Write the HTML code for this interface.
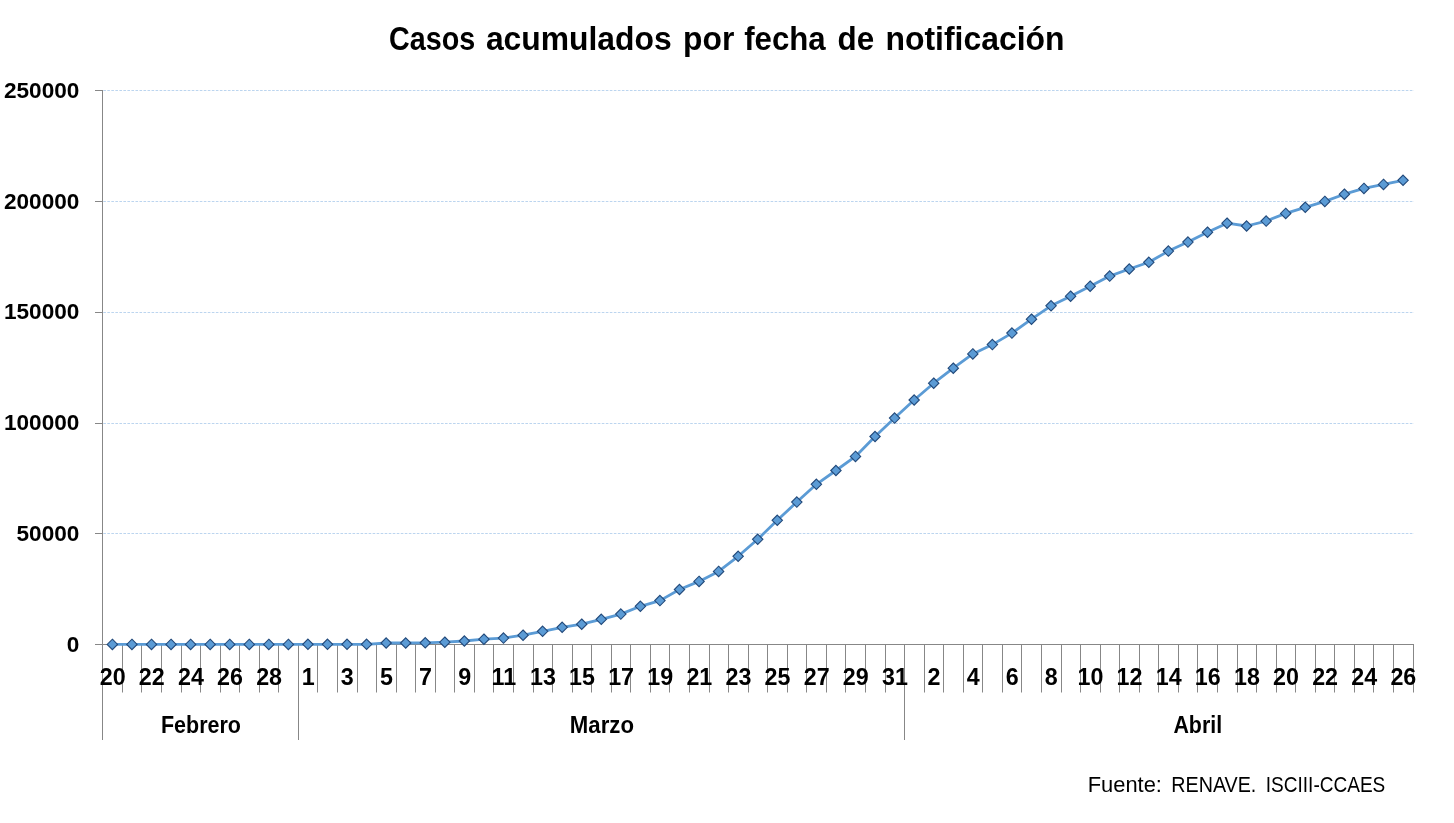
<!DOCTYPE html>
<html><head><meta charset="utf-8"><style>html,body{margin:0;padding:0;background:#fff;width:1454px;height:823px;overflow:hidden}</style></head>
<body>
<svg width="1454" height="823" viewBox="0 0 1454 823" style="display:block;font-family:'Liberation Sans',sans-serif">
<rect width="1454" height="823" fill="#fff"/>
<line x1="103.3" y1="90.5" x2="1414" y2="90.5" stroke="#BCD5EF" stroke-width="1" stroke-dasharray="2.6 1.42"/>
<line x1="103.3" y1="201.5" x2="1414" y2="201.5" stroke="#BCD5EF" stroke-width="1" stroke-dasharray="2.6 1.42"/>
<line x1="103.3" y1="312.5" x2="1414" y2="312.5" stroke="#BCD5EF" stroke-width="1" stroke-dasharray="2.6 1.42"/>
<line x1="103.3" y1="423.5" x2="1414" y2="423.5" stroke="#BCD5EF" stroke-width="1" stroke-dasharray="2.6 1.42"/>
<line x1="103.3" y1="533.5" x2="1414" y2="533.5" stroke="#BCD5EF" stroke-width="1" stroke-dasharray="2.6 1.42"/>
<line x1="95" y1="90.5" x2="103" y2="90.5" stroke="#878787" stroke-width="1"/>
<line x1="95" y1="201.5" x2="103" y2="201.5" stroke="#878787" stroke-width="1"/>
<line x1="95" y1="312.5" x2="103" y2="312.5" stroke="#878787" stroke-width="1"/>
<line x1="95" y1="423.5" x2="103" y2="423.5" stroke="#878787" stroke-width="1"/>
<line x1="95" y1="533.5" x2="103" y2="533.5" stroke="#878787" stroke-width="1"/>
<line x1="95" y1="644.5" x2="103" y2="644.5" stroke="#878787" stroke-width="1"/>
<line x1="102.5" y1="90" x2="102.5" y2="740" stroke="#878787" stroke-width="1"/>
<line x1="102" y1="644.5" x2="1414" y2="644.5" stroke="#878787" stroke-width="1"/>
<line x1="122.5" y1="644" x2="122.5" y2="692.5" stroke="#878787" stroke-width="1"/>
<line x1="141.5" y1="644" x2="141.5" y2="692.5" stroke="#878787" stroke-width="1"/>
<line x1="161.5" y1="644" x2="161.5" y2="692.5" stroke="#878787" stroke-width="1"/>
<line x1="181.5" y1="644" x2="181.5" y2="692.5" stroke="#878787" stroke-width="1"/>
<line x1="200.5" y1="644" x2="200.5" y2="692.5" stroke="#878787" stroke-width="1"/>
<line x1="220.5" y1="644" x2="220.5" y2="692.5" stroke="#878787" stroke-width="1"/>
<line x1="239.5" y1="644" x2="239.5" y2="692.5" stroke="#878787" stroke-width="1"/>
<line x1="259.5" y1="644" x2="259.5" y2="692.5" stroke="#878787" stroke-width="1"/>
<line x1="278.5" y1="644" x2="278.5" y2="692.5" stroke="#878787" stroke-width="1"/>
<line x1="298.5" y1="644" x2="298.5" y2="740" stroke="#878787" stroke-width="1"/>
<line x1="317.5" y1="644" x2="317.5" y2="692.5" stroke="#878787" stroke-width="1"/>
<line x1="337.5" y1="644" x2="337.5" y2="692.5" stroke="#878787" stroke-width="1"/>
<line x1="357.5" y1="644" x2="357.5" y2="692.5" stroke="#878787" stroke-width="1"/>
<line x1="376.5" y1="644" x2="376.5" y2="692.5" stroke="#878787" stroke-width="1"/>
<line x1="396.5" y1="644" x2="396.5" y2="692.5" stroke="#878787" stroke-width="1"/>
<line x1="415.5" y1="644" x2="415.5" y2="692.5" stroke="#878787" stroke-width="1"/>
<line x1="435.5" y1="644" x2="435.5" y2="692.5" stroke="#878787" stroke-width="1"/>
<line x1="454.5" y1="644" x2="454.5" y2="692.5" stroke="#878787" stroke-width="1"/>
<line x1="474.5" y1="644" x2="474.5" y2="692.5" stroke="#878787" stroke-width="1"/>
<line x1="493.5" y1="644" x2="493.5" y2="692.5" stroke="#878787" stroke-width="1"/>
<line x1="513.5" y1="644" x2="513.5" y2="692.5" stroke="#878787" stroke-width="1"/>
<line x1="533.5" y1="644" x2="533.5" y2="692.5" stroke="#878787" stroke-width="1"/>
<line x1="552.5" y1="644" x2="552.5" y2="692.5" stroke="#878787" stroke-width="1"/>
<line x1="572.5" y1="644" x2="572.5" y2="692.5" stroke="#878787" stroke-width="1"/>
<line x1="591.5" y1="644" x2="591.5" y2="692.5" stroke="#878787" stroke-width="1"/>
<line x1="611.5" y1="644" x2="611.5" y2="692.5" stroke="#878787" stroke-width="1"/>
<line x1="630.5" y1="644" x2="630.5" y2="692.5" stroke="#878787" stroke-width="1"/>
<line x1="650.5" y1="644" x2="650.5" y2="692.5" stroke="#878787" stroke-width="1"/>
<line x1="669.5" y1="644" x2="669.5" y2="692.5" stroke="#878787" stroke-width="1"/>
<line x1="689.5" y1="644" x2="689.5" y2="692.5" stroke="#878787" stroke-width="1"/>
<line x1="709.5" y1="644" x2="709.5" y2="692.5" stroke="#878787" stroke-width="1"/>
<line x1="728.5" y1="644" x2="728.5" y2="692.5" stroke="#878787" stroke-width="1"/>
<line x1="748.5" y1="644" x2="748.5" y2="692.5" stroke="#878787" stroke-width="1"/>
<line x1="767.5" y1="644" x2="767.5" y2="692.5" stroke="#878787" stroke-width="1"/>
<line x1="787.5" y1="644" x2="787.5" y2="692.5" stroke="#878787" stroke-width="1"/>
<line x1="806.5" y1="644" x2="806.5" y2="692.5" stroke="#878787" stroke-width="1"/>
<line x1="826.5" y1="644" x2="826.5" y2="692.5" stroke="#878787" stroke-width="1"/>
<line x1="845.5" y1="644" x2="845.5" y2="692.5" stroke="#878787" stroke-width="1"/>
<line x1="865.5" y1="644" x2="865.5" y2="692.5" stroke="#878787" stroke-width="1"/>
<line x1="885.5" y1="644" x2="885.5" y2="692.5" stroke="#878787" stroke-width="1"/>
<line x1="904.5" y1="644" x2="904.5" y2="740" stroke="#878787" stroke-width="1"/>
<line x1="924.5" y1="644" x2="924.5" y2="692.5" stroke="#878787" stroke-width="1"/>
<line x1="943.5" y1="644" x2="943.5" y2="692.5" stroke="#878787" stroke-width="1"/>
<line x1="963.5" y1="644" x2="963.5" y2="692.5" stroke="#878787" stroke-width="1"/>
<line x1="982.5" y1="644" x2="982.5" y2="692.5" stroke="#878787" stroke-width="1"/>
<line x1="1002.5" y1="644" x2="1002.5" y2="692.5" stroke="#878787" stroke-width="1"/>
<line x1="1021.5" y1="644" x2="1021.5" y2="692.5" stroke="#878787" stroke-width="1"/>
<line x1="1041.5" y1="644" x2="1041.5" y2="692.5" stroke="#878787" stroke-width="1"/>
<line x1="1061.5" y1="644" x2="1061.5" y2="692.5" stroke="#878787" stroke-width="1"/>
<line x1="1080.5" y1="644" x2="1080.5" y2="692.5" stroke="#878787" stroke-width="1"/>
<line x1="1100.5" y1="644" x2="1100.5" y2="692.5" stroke="#878787" stroke-width="1"/>
<line x1="1119.5" y1="644" x2="1119.5" y2="692.5" stroke="#878787" stroke-width="1"/>
<line x1="1139.5" y1="644" x2="1139.5" y2="692.5" stroke="#878787" stroke-width="1"/>
<line x1="1158.5" y1="644" x2="1158.5" y2="692.5" stroke="#878787" stroke-width="1"/>
<line x1="1178.5" y1="644" x2="1178.5" y2="692.5" stroke="#878787" stroke-width="1"/>
<line x1="1197.5" y1="644" x2="1197.5" y2="692.5" stroke="#878787" stroke-width="1"/>
<line x1="1217.5" y1="644" x2="1217.5" y2="692.5" stroke="#878787" stroke-width="1"/>
<line x1="1237.5" y1="644" x2="1237.5" y2="692.5" stroke="#878787" stroke-width="1"/>
<line x1="1256.5" y1="644" x2="1256.5" y2="692.5" stroke="#878787" stroke-width="1"/>
<line x1="1276.5" y1="644" x2="1276.5" y2="692.5" stroke="#878787" stroke-width="1"/>
<line x1="1295.5" y1="644" x2="1295.5" y2="692.5" stroke="#878787" stroke-width="1"/>
<line x1="1315.5" y1="644" x2="1315.5" y2="692.5" stroke="#878787" stroke-width="1"/>
<line x1="1334.5" y1="644" x2="1334.5" y2="692.5" stroke="#878787" stroke-width="1"/>
<line x1="1354.5" y1="644" x2="1354.5" y2="692.5" stroke="#878787" stroke-width="1"/>
<line x1="1373.5" y1="644" x2="1373.5" y2="692.5" stroke="#878787" stroke-width="1"/>
<line x1="1393.5" y1="644" x2="1393.5" y2="692.5" stroke="#878787" stroke-width="1"/>
<line x1="1413.5" y1="644" x2="1413.5" y2="692.5" stroke="#878787" stroke-width="1"/>
<g style="will-change:transform">
<text transform="translate(3.98 97.80) scale(1.0001 1)" font-size="22.60" font-weight="bold" fill="#000">250000</text>
<text transform="translate(3.98 208.60) scale(1.0001 1)" font-size="22.60" font-weight="bold" fill="#000">200000</text>
<text transform="translate(3.98 319.40) scale(1.0001 1)" font-size="22.60" font-weight="bold" fill="#000">150000</text>
<text transform="translate(3.98 430.20) scale(1.0001 1)" font-size="22.60" font-weight="bold" fill="#000">100000</text>
<text transform="translate(16.55 541.00) scale(1.0001 1)" font-size="22.60" font-weight="bold" fill="#000">50000</text>
<text transform="translate(66.83 651.80) scale(1.0001 1)" font-size="22.60" font-weight="bold" fill="#000">0</text>
<text transform="translate(99.72 685.30) scale(0.9978 1)" font-size="23.35" font-weight="bold" fill="#000">20</text>
<text transform="translate(138.83 685.30) scale(0.9978 1)" font-size="23.35" font-weight="bold" fill="#000">22</text>
<text transform="translate(177.95 685.30) scale(0.9978 1)" font-size="23.35" font-weight="bold" fill="#000">24</text>
<text transform="translate(217.06 685.30) scale(0.9978 1)" font-size="23.35" font-weight="bold" fill="#000">26</text>
<text transform="translate(256.17 685.30) scale(0.9978 1)" font-size="23.35" font-weight="bold" fill="#000">28</text>
<text transform="translate(301.76 685.30) scale(0.9978 1)" font-size="23.35" font-weight="bold" fill="#000">1</text>
<text transform="translate(340.87 685.30) scale(0.9978 1)" font-size="23.35" font-weight="bold" fill="#000">3</text>
<text transform="translate(379.98 685.30) scale(0.9978 1)" font-size="23.35" font-weight="bold" fill="#000">5</text>
<text transform="translate(419.09 685.30) scale(0.9978 1)" font-size="23.35" font-weight="bold" fill="#000">7</text>
<text transform="translate(458.20 685.30) scale(0.9978 1)" font-size="23.35" font-weight="bold" fill="#000">9</text>
<text transform="translate(491.48 685.30) scale(0.9978 1)" font-size="23.35" font-weight="bold" fill="#000">11</text>
<text transform="translate(529.95 685.30) scale(0.9978 1)" font-size="23.35" font-weight="bold" fill="#000">13</text>
<text transform="translate(569.06 685.30) scale(0.9978 1)" font-size="23.35" font-weight="bold" fill="#000">15</text>
<text transform="translate(608.17 685.30) scale(0.9978 1)" font-size="23.35" font-weight="bold" fill="#000">17</text>
<text transform="translate(647.28 685.30) scale(0.9978 1)" font-size="23.35" font-weight="bold" fill="#000">19</text>
<text transform="translate(686.39 685.30) scale(0.9978 1)" font-size="23.35" font-weight="bold" fill="#000">21</text>
<text transform="translate(725.50 685.30) scale(0.9978 1)" font-size="23.35" font-weight="bold" fill="#000">23</text>
<text transform="translate(764.61 685.30) scale(0.9978 1)" font-size="23.35" font-weight="bold" fill="#000">25</text>
<text transform="translate(803.72 685.30) scale(0.9978 1)" font-size="23.35" font-weight="bold" fill="#000">27</text>
<text transform="translate(842.84 685.30) scale(0.9978 1)" font-size="23.35" font-weight="bold" fill="#000">29</text>
<text transform="translate(881.95 685.30) scale(0.9978 1)" font-size="23.35" font-weight="bold" fill="#000">31</text>
<text transform="translate(927.54 685.30) scale(0.9978 1)" font-size="23.35" font-weight="bold" fill="#000">2</text>
<text transform="translate(966.65 685.30) scale(0.9978 1)" font-size="23.35" font-weight="bold" fill="#000">4</text>
<text transform="translate(1005.76 685.30) scale(0.9978 1)" font-size="23.35" font-weight="bold" fill="#000">6</text>
<text transform="translate(1044.87 685.30) scale(0.9978 1)" font-size="23.35" font-weight="bold" fill="#000">8</text>
<text transform="translate(1077.50 685.30) scale(0.9978 1)" font-size="23.35" font-weight="bold" fill="#000">10</text>
<text transform="translate(1116.61 685.30) scale(0.9978 1)" font-size="23.35" font-weight="bold" fill="#000">12</text>
<text transform="translate(1155.73 685.30) scale(0.9978 1)" font-size="23.35" font-weight="bold" fill="#000">14</text>
<text transform="translate(1194.84 685.30) scale(0.9978 1)" font-size="23.35" font-weight="bold" fill="#000">16</text>
<text transform="translate(1233.95 685.30) scale(0.9978 1)" font-size="23.35" font-weight="bold" fill="#000">18</text>
<text transform="translate(1273.06 685.30) scale(0.9978 1)" font-size="23.35" font-weight="bold" fill="#000">20</text>
<text transform="translate(1312.17 685.30) scale(0.9978 1)" font-size="23.35" font-weight="bold" fill="#000">22</text>
<text transform="translate(1351.28 685.30) scale(0.9978 1)" font-size="23.35" font-weight="bold" fill="#000">24</text>
<text transform="translate(1390.39 685.30) scale(0.9978 1)" font-size="23.35" font-weight="bold" fill="#000">26</text>
<text transform="translate(161.00 733.20) scale(0.9228 1)" font-size="23.26" font-weight="bold" fill="#000">Febrero</text>
<text transform="translate(569.80 733.00) scale(0.9496 1)" font-size="23.40" font-weight="bold" fill="#000">Marzo</text>
<text transform="translate(1173.40 732.90) scale(0.9193 1)" font-size="23.26" font-weight="bold" fill="#000">Abril</text>
<text transform="translate(389.00 50.40) scale(0.8757 1)" font-size="32.80" font-weight="bold" fill="#000">Casos</text>
<text transform="translate(485.90 50.40) scale(0.9708 1)" font-size="32.80" font-weight="bold" fill="#000">acumulados</text>
<text transform="translate(683.10 50.40) scale(0.9689 1)" font-size="32.80" font-weight="bold" fill="#000">por</text>
<text transform="translate(744.20 50.40) scale(0.9511 1)" font-size="32.80" font-weight="bold" fill="#000">fecha</text>
<text transform="translate(837.50 50.40) scale(0.9562 1)" font-size="32.80" font-weight="bold" fill="#000">de</text>
<text transform="translate(885.50 50.40) scale(0.9726 1)" font-size="32.80" font-weight="bold" fill="#000">notificación</text>
<text transform="translate(1087.70 791.50) scale(0.9789 1)" font-size="22.38" font-weight="normal" fill="#000">Fuente:</text>
<text transform="translate(1171.30 791.50) scale(0.8809 1)" font-size="22.38" font-weight="normal" fill="#000">RENAVE.</text>
<text transform="translate(1265.80 791.50) scale(0.8510 1)" font-size="22.38" font-weight="normal" fill="#000">ISCIII-CCAES</text>
</g>
<polyline points="112.38,644.40 131.93,644.40 151.49,644.40 171.04,644.40 190.60,644.40 210.16,644.40 229.71,644.40 249.27,644.40 268.82,644.40 288.38,644.40 307.93,644.30 327.49,644.30 347.04,644.30 366.60,644.30 386.16,643.00 405.71,643.00 425.27,642.80 444.82,642.20 464.38,641.00 483.93,639.20 503.49,638.10 523.05,635.20 542.60,631.30 562.16,627.30 581.71,624.20 601.27,619.30 620.82,614.10 640.38,606.30 659.93,600.60 679.49,589.50 699.05,581.40 718.60,571.40 738.16,556.30 757.71,539.30 777.27,520.30 796.82,502.10 816.38,484.30 835.93,470.50 855.49,456.40 875.05,436.50 894.60,418.10 914.16,400.00 933.71,383.20 953.27,368.20 972.82,353.90 992.38,344.60 1011.94,333.10 1031.49,319.20 1051.05,305.80 1070.60,296.20 1090.16,286.20 1109.71,276.10 1129.27,269.00 1148.82,262.30 1168.38,251.10 1187.94,242.10 1207.49,232.20 1227.05,223.20 1246.60,226.00 1266.16,221.10 1285.71,213.40 1305.27,207.30 1324.82,201.40 1344.38,194.20 1363.94,188.40 1383.49,184.40 1403.05,180.30" fill="none" stroke="#5B9BD5" stroke-width="2.8" stroke-linejoin="round" stroke-linecap="round"/>
<path d="M112.38 639.20L117.58 644.40L112.38 649.60L107.18 644.40Z" fill="#5B9BD5" stroke="#22497A" stroke-width="1.1"/>
<path d="M131.93 639.20L137.13 644.40L131.93 649.60L126.73 644.40Z" fill="#5B9BD5" stroke="#22497A" stroke-width="1.1"/>
<path d="M151.49 639.20L156.69 644.40L151.49 649.60L146.29 644.40Z" fill="#5B9BD5" stroke="#22497A" stroke-width="1.1"/>
<path d="M171.04 639.20L176.24 644.40L171.04 649.60L165.84 644.40Z" fill="#5B9BD5" stroke="#22497A" stroke-width="1.1"/>
<path d="M190.60 639.20L195.80 644.40L190.60 649.60L185.40 644.40Z" fill="#5B9BD5" stroke="#22497A" stroke-width="1.1"/>
<path d="M210.16 639.20L215.36 644.40L210.16 649.60L204.96 644.40Z" fill="#5B9BD5" stroke="#22497A" stroke-width="1.1"/>
<path d="M229.71 639.20L234.91 644.40L229.71 649.60L224.51 644.40Z" fill="#5B9BD5" stroke="#22497A" stroke-width="1.1"/>
<path d="M249.27 639.20L254.47 644.40L249.27 649.60L244.07 644.40Z" fill="#5B9BD5" stroke="#22497A" stroke-width="1.1"/>
<path d="M268.82 639.20L274.02 644.40L268.82 649.60L263.62 644.40Z" fill="#5B9BD5" stroke="#22497A" stroke-width="1.1"/>
<path d="M288.38 639.20L293.58 644.40L288.38 649.60L283.18 644.40Z" fill="#5B9BD5" stroke="#22497A" stroke-width="1.1"/>
<path d="M307.93 639.10L313.13 644.30L307.93 649.50L302.73 644.30Z" fill="#5B9BD5" stroke="#22497A" stroke-width="1.1"/>
<path d="M327.49 639.10L332.69 644.30L327.49 649.50L322.29 644.30Z" fill="#5B9BD5" stroke="#22497A" stroke-width="1.1"/>
<path d="M347.04 639.10L352.24 644.30L347.04 649.50L341.84 644.30Z" fill="#5B9BD5" stroke="#22497A" stroke-width="1.1"/>
<path d="M366.60 639.10L371.80 644.30L366.60 649.50L361.40 644.30Z" fill="#5B9BD5" stroke="#22497A" stroke-width="1.1"/>
<path d="M386.16 637.80L391.36 643.00L386.16 648.20L380.96 643.00Z" fill="#5B9BD5" stroke="#22497A" stroke-width="1.1"/>
<path d="M405.71 637.80L410.91 643.00L405.71 648.20L400.51 643.00Z" fill="#5B9BD5" stroke="#22497A" stroke-width="1.1"/>
<path d="M425.27 637.60L430.47 642.80L425.27 648.00L420.07 642.80Z" fill="#5B9BD5" stroke="#22497A" stroke-width="1.1"/>
<path d="M444.82 637.00L450.02 642.20L444.82 647.40L439.62 642.20Z" fill="#5B9BD5" stroke="#22497A" stroke-width="1.1"/>
<path d="M464.38 635.80L469.58 641.00L464.38 646.20L459.18 641.00Z" fill="#5B9BD5" stroke="#22497A" stroke-width="1.1"/>
<path d="M483.93 634.00L489.13 639.20L483.93 644.40L478.73 639.20Z" fill="#5B9BD5" stroke="#22497A" stroke-width="1.1"/>
<path d="M503.49 632.90L508.69 638.10L503.49 643.30L498.29 638.10Z" fill="#5B9BD5" stroke="#22497A" stroke-width="1.1"/>
<path d="M523.05 630.00L528.25 635.20L523.05 640.40L517.85 635.20Z" fill="#5B9BD5" stroke="#22497A" stroke-width="1.1"/>
<path d="M542.60 626.10L547.80 631.30L542.60 636.50L537.40 631.30Z" fill="#5B9BD5" stroke="#22497A" stroke-width="1.1"/>
<path d="M562.16 622.10L567.36 627.30L562.16 632.50L556.96 627.30Z" fill="#5B9BD5" stroke="#22497A" stroke-width="1.1"/>
<path d="M581.71 619.00L586.91 624.20L581.71 629.40L576.51 624.20Z" fill="#5B9BD5" stroke="#22497A" stroke-width="1.1"/>
<path d="M601.27 614.10L606.47 619.30L601.27 624.50L596.07 619.30Z" fill="#5B9BD5" stroke="#22497A" stroke-width="1.1"/>
<path d="M620.82 608.90L626.02 614.10L620.82 619.30L615.62 614.10Z" fill="#5B9BD5" stroke="#22497A" stroke-width="1.1"/>
<path d="M640.38 601.10L645.58 606.30L640.38 611.50L635.18 606.30Z" fill="#5B9BD5" stroke="#22497A" stroke-width="1.1"/>
<path d="M659.93 595.40L665.13 600.60L659.93 605.80L654.73 600.60Z" fill="#5B9BD5" stroke="#22497A" stroke-width="1.1"/>
<path d="M679.49 584.30L684.69 589.50L679.49 594.70L674.29 589.50Z" fill="#5B9BD5" stroke="#22497A" stroke-width="1.1"/>
<path d="M699.05 576.20L704.25 581.40L699.05 586.60L693.85 581.40Z" fill="#5B9BD5" stroke="#22497A" stroke-width="1.1"/>
<path d="M718.60 566.20L723.80 571.40L718.60 576.60L713.40 571.40Z" fill="#5B9BD5" stroke="#22497A" stroke-width="1.1"/>
<path d="M738.16 551.10L743.36 556.30L738.16 561.50L732.96 556.30Z" fill="#5B9BD5" stroke="#22497A" stroke-width="1.1"/>
<path d="M757.71 534.10L762.91 539.30L757.71 544.50L752.51 539.30Z" fill="#5B9BD5" stroke="#22497A" stroke-width="1.1"/>
<path d="M777.27 515.10L782.47 520.30L777.27 525.50L772.07 520.30Z" fill="#5B9BD5" stroke="#22497A" stroke-width="1.1"/>
<path d="M796.82 496.90L802.02 502.10L796.82 507.30L791.62 502.10Z" fill="#5B9BD5" stroke="#22497A" stroke-width="1.1"/>
<path d="M816.38 479.10L821.58 484.30L816.38 489.50L811.18 484.30Z" fill="#5B9BD5" stroke="#22497A" stroke-width="1.1"/>
<path d="M835.93 465.30L841.13 470.50L835.93 475.70L830.73 470.50Z" fill="#5B9BD5" stroke="#22497A" stroke-width="1.1"/>
<path d="M855.49 451.20L860.69 456.40L855.49 461.60L850.29 456.40Z" fill="#5B9BD5" stroke="#22497A" stroke-width="1.1"/>
<path d="M875.05 431.30L880.25 436.50L875.05 441.70L869.85 436.50Z" fill="#5B9BD5" stroke="#22497A" stroke-width="1.1"/>
<path d="M894.60 412.90L899.80 418.10L894.60 423.30L889.40 418.10Z" fill="#5B9BD5" stroke="#22497A" stroke-width="1.1"/>
<path d="M914.16 394.80L919.36 400.00L914.16 405.20L908.96 400.00Z" fill="#5B9BD5" stroke="#22497A" stroke-width="1.1"/>
<path d="M933.71 378.00L938.91 383.20L933.71 388.40L928.51 383.20Z" fill="#5B9BD5" stroke="#22497A" stroke-width="1.1"/>
<path d="M953.27 363.00L958.47 368.20L953.27 373.40L948.07 368.20Z" fill="#5B9BD5" stroke="#22497A" stroke-width="1.1"/>
<path d="M972.82 348.70L978.02 353.90L972.82 359.10L967.62 353.90Z" fill="#5B9BD5" stroke="#22497A" stroke-width="1.1"/>
<path d="M992.38 339.40L997.58 344.60L992.38 349.80L987.18 344.60Z" fill="#5B9BD5" stroke="#22497A" stroke-width="1.1"/>
<path d="M1011.94 327.90L1017.14 333.10L1011.94 338.30L1006.74 333.10Z" fill="#5B9BD5" stroke="#22497A" stroke-width="1.1"/>
<path d="M1031.49 314.00L1036.69 319.20L1031.49 324.40L1026.29 319.20Z" fill="#5B9BD5" stroke="#22497A" stroke-width="1.1"/>
<path d="M1051.05 300.60L1056.25 305.80L1051.05 311.00L1045.85 305.80Z" fill="#5B9BD5" stroke="#22497A" stroke-width="1.1"/>
<path d="M1070.60 291.00L1075.80 296.20L1070.60 301.40L1065.40 296.20Z" fill="#5B9BD5" stroke="#22497A" stroke-width="1.1"/>
<path d="M1090.16 281.00L1095.36 286.20L1090.16 291.40L1084.96 286.20Z" fill="#5B9BD5" stroke="#22497A" stroke-width="1.1"/>
<path d="M1109.71 270.90L1114.91 276.10L1109.71 281.30L1104.51 276.10Z" fill="#5B9BD5" stroke="#22497A" stroke-width="1.1"/>
<path d="M1129.27 263.80L1134.47 269.00L1129.27 274.20L1124.07 269.00Z" fill="#5B9BD5" stroke="#22497A" stroke-width="1.1"/>
<path d="M1148.82 257.10L1154.02 262.30L1148.82 267.50L1143.62 262.30Z" fill="#5B9BD5" stroke="#22497A" stroke-width="1.1"/>
<path d="M1168.38 245.90L1173.58 251.10L1168.38 256.30L1163.18 251.10Z" fill="#5B9BD5" stroke="#22497A" stroke-width="1.1"/>
<path d="M1187.94 236.90L1193.14 242.10L1187.94 247.30L1182.74 242.10Z" fill="#5B9BD5" stroke="#22497A" stroke-width="1.1"/>
<path d="M1207.49 227.00L1212.69 232.20L1207.49 237.40L1202.29 232.20Z" fill="#5B9BD5" stroke="#22497A" stroke-width="1.1"/>
<path d="M1227.05 218.00L1232.25 223.20L1227.05 228.40L1221.85 223.20Z" fill="#5B9BD5" stroke="#22497A" stroke-width="1.1"/>
<path d="M1246.60 220.80L1251.80 226.00L1246.60 231.20L1241.40 226.00Z" fill="#5B9BD5" stroke="#22497A" stroke-width="1.1"/>
<path d="M1266.16 215.90L1271.36 221.10L1266.16 226.30L1260.96 221.10Z" fill="#5B9BD5" stroke="#22497A" stroke-width="1.1"/>
<path d="M1285.71 208.20L1290.91 213.40L1285.71 218.60L1280.51 213.40Z" fill="#5B9BD5" stroke="#22497A" stroke-width="1.1"/>
<path d="M1305.27 202.10L1310.47 207.30L1305.27 212.50L1300.07 207.30Z" fill="#5B9BD5" stroke="#22497A" stroke-width="1.1"/>
<path d="M1324.82 196.20L1330.02 201.40L1324.82 206.60L1319.62 201.40Z" fill="#5B9BD5" stroke="#22497A" stroke-width="1.1"/>
<path d="M1344.38 189.00L1349.58 194.20L1344.38 199.40L1339.18 194.20Z" fill="#5B9BD5" stroke="#22497A" stroke-width="1.1"/>
<path d="M1363.94 183.20L1369.14 188.40L1363.94 193.60L1358.74 188.40Z" fill="#5B9BD5" stroke="#22497A" stroke-width="1.1"/>
<path d="M1383.49 179.20L1388.69 184.40L1383.49 189.60L1378.29 184.40Z" fill="#5B9BD5" stroke="#22497A" stroke-width="1.1"/>
<path d="M1403.05 175.10L1408.25 180.30L1403.05 185.50L1397.85 180.30Z" fill="#5B9BD5" stroke="#22497A" stroke-width="1.1"/>
</svg>
</body></html>
